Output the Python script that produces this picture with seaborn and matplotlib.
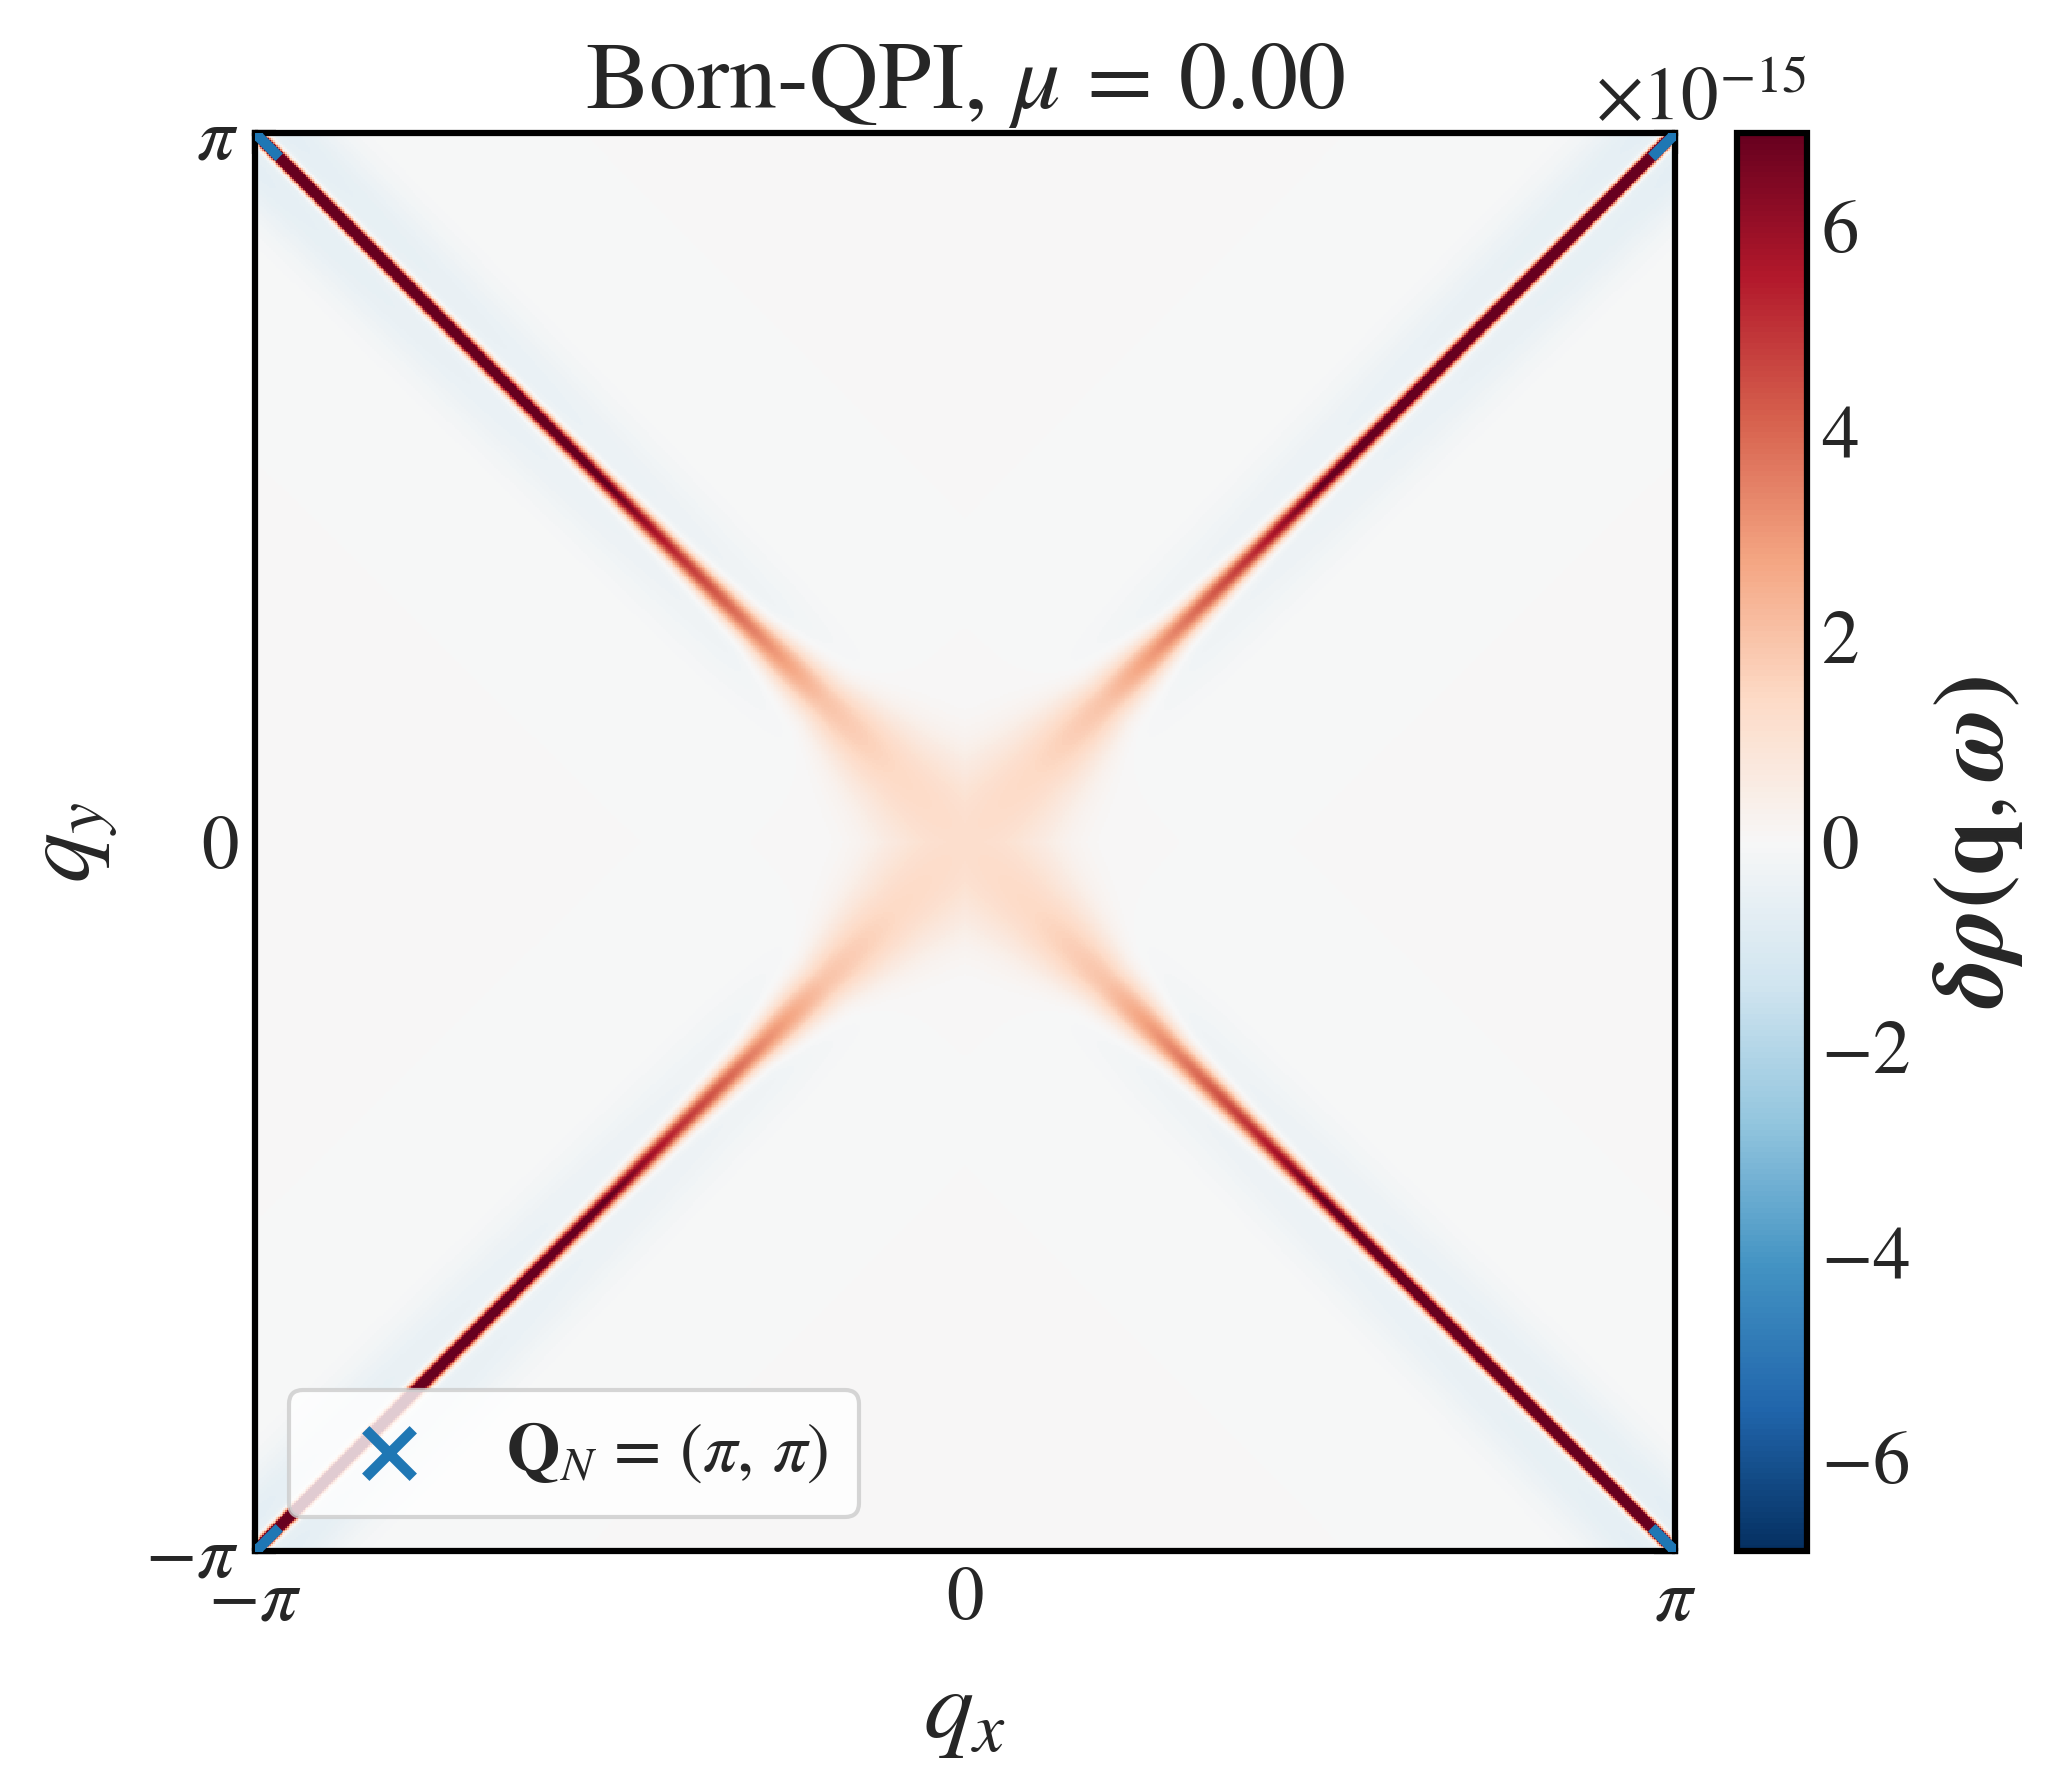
import numpy as np
import matplotlib
matplotlib.use("Agg")
import matplotlib.pyplot as plt
import seaborn as sns

# values (units of 1e-15, distances in units of pi)
s_along = [0.0, 0.1, 0.2, 0.3, 0.4, 0.5, 0.6, 0.7, 0.8, 0.9, 1.0]
line_peak = [1.2, 1.4, 2.0, 3.5, 5.0, 7.0, 9.0, 11.0, 13.0, 15.0, 18.0]
line_width = [0.08, 0.05, 0.026, 0.014, 0.010, 0.008, 0.007, 0.0065, 0.006, 0.0055, 0.005]
halo_depth = [0.0, 0.05, 0.15, 0.3, 0.35, 0.4, 0.45, 0.5, 0.55, 0.6, 0.7]
halo_center = 0.035
halo_width = 0.035
vlim = 6.91
corners_x = [np.pi, -np.pi, np.pi, -np.pi]
corners_y = [np.pi, -np.pi, -np.pi, np.pi]
tick_labels = [r"$-\pi$", r"$0$", r"$\pi$"]

N = 801
q = np.linspace(-1, 1, N)
qx, qy = np.meshgrid(q, q[::-1])

lines = []
for a, b in [(qx + qy, qx - qy), (qx - qy, qx + qy)]:
    s = np.abs(a) / 2
    d = np.abs(b) / np.sqrt(2)
    pk = np.interp(s, s_along, line_peak)
    w = np.interp(s, s_along, line_width)
    hd = np.interp(s, s_along, halo_depth)
    core = np.exp(-d**2 / (2 * w**2))
    halo = hd * np.exp(-(d - halo_center)**2 / (2 * halo_width**2))
    lines.append(pk * core - halo * (1 - core))
field = np.where(np.abs(lines[0]) > np.abs(lines[1]), lines[0], lines[1])

sns.set_style("white")
plt.rcParams["font.family"] = ["STIXGeneral", "DejaVu Serif"]
plt.rcParams["mathtext.fontset"] = "stix"

fig = plt.figure(figsize=(6.9, 5.9267), dpi=300)
ax = fig.add_axes([0.1232, 0.1277, 0.686, 0.7975])
cax = fig.add_axes([0.839, 0.1277, 0.0338, 0.7975])

sns.heatmap(
    field * 1e-15,
    ax=ax,
    cbar_ax=cax,
    cmap="RdBu_r",
    vmin=-vlim * 1e-15,
    vmax=vlim * 1e-15,
    xticklabels=False,
    yticklabels=False,
    rasterized=True
)

for sp in ax.spines.values():
    sp.set_visible(True)
    sp.set_linewidth(1.5)
    sp.set_color("black")

ax.set_xticks([0, N / 2, N])
ax.set_xticklabels(tick_labels, fontsize=18)
ax.set_yticks([0, N / 2, N])
ax.set_yticklabels(tick_labels[::-1], fontsize=18, rotation=0)
ax.tick_params(direction="in", length=5, width=1.5, top=True, right=True,
               bottom=True, left=True, pad=4)

# corner markers in heatmap cell coordinates
mx = [(x / np.pi + 1) / 2 * N for x in corners_x]
my = [(1 - y / np.pi) / 2 * N for y in corners_y]
ax.scatter(mx, my, marker="x", s=130, color="#1f77b4", linewidths=2.5,
           clip_on=True, zorder=5, label=r"$\mathbf{Q}_N\,=\,(\pi,\,\pi)$")
ax.set_xlim(0, N)
ax.set_ylim(N, 0)

ax.legend(loc="lower left", fontsize=16.5, frameon=True, framealpha=0.8,
          handletextpad=0.7, borderpad=0.45, borderaxespad=0.5)

ax.set_xlabel(r"$q_x$", fontsize=24, labelpad=8)
ax.set_ylabel(r"$q_y$", fontsize=24, labelpad=6)
ax.set_title(r"Born-QPI, $\mu\,=\,0.00$", fontsize=23)

cb = ax.collections[0].colorbar
cb.outline.set_linewidth(1.5)
cb.outline.set_edgecolor("black")
cb.set_ticks([t * 1e-15 for t in [-6, -4, -2, 0, 2, 4, 6]])
cb.formatter.set_useMathText(True)
cax.tick_params(direction="in", length=5, width=1.5, labelsize=18)
cb.set_label(r"$\boldsymbol{\delta\rho(\mathbf{q},\omega)}$", fontsize=24, labelpad=5)
cax.yaxis.get_offset_text().set_fontsize(18)

plt.savefig("out.png", dpi=300)
plt.close()
